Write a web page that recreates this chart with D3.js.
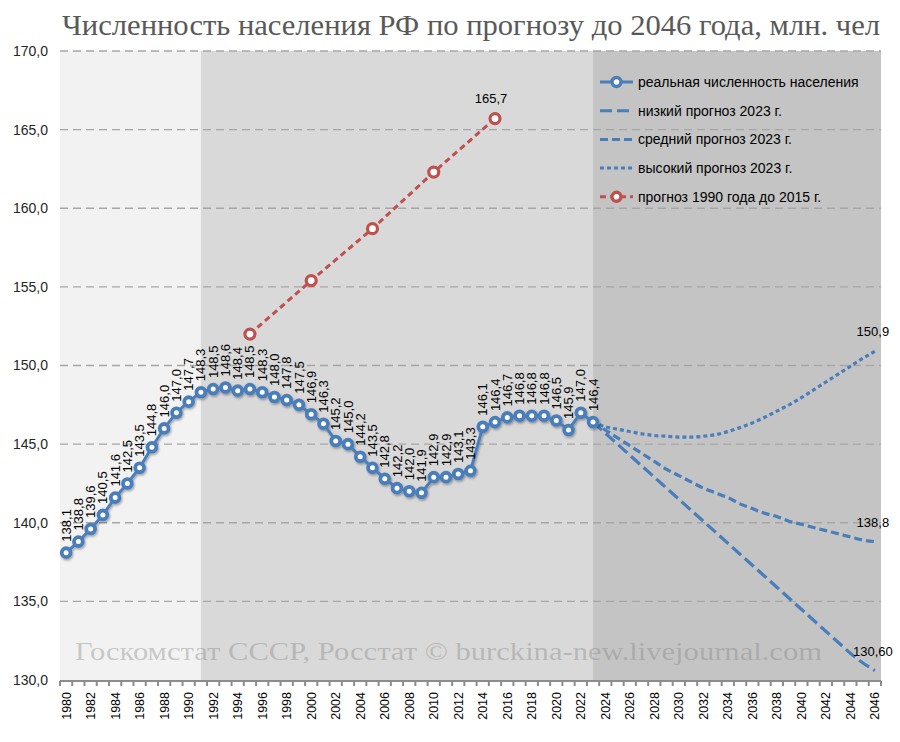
<!DOCTYPE html>
<html>
<head>
<meta charset="utf-8">
<script src="https://cdn.jsdelivr.net/npm/d3@7"></script>
<style>
  body { margin: 0; background: #ffffff; }
  svg { display: block; }
</style>
</head>
<body>
<script>
var anios = d3.range(1980, 2047);

var aniosReales = d3.range(1980, 2024);
var poblacionReal = [138.1, 138.8, 139.6, 140.5, 141.6, 142.5, 143.5, 144.8, 146.0, 147.0,
                     147.7, 148.3, 148.5, 148.6, 148.4, 148.5, 148.3, 148.0, 147.8, 147.5,
                     146.9, 146.3, 145.2, 145.0, 144.2, 143.5, 142.8, 142.2, 142.0, 141.9,
                     142.9, 142.9, 143.1, 143.3, 146.1, 146.4, 146.7, 146.8, 146.8, 146.8,
                     146.5, 145.9, 147.0, 146.4];

var aniosPrognoz = d3.range(2023, 2047);
var prognozNizkiy = [146.4, 145.7, 145.0, 144.3, 143.6, 142.9, 142.2, 141.5, 140.8, 140.1,
                     139.4, 138.7, 138.0, 137.3, 136.6, 135.9, 135.2, 134.5, 133.8, 133.1,
                     132.4, 131.7, 131.1, 130.6];
var prognozSredniy = [146.4, 145.9, 145.4, 144.9, 144.4, 143.9, 143.4, 143.0, 142.6, 142.2,
                      141.9, 141.6, 141.2, 140.9, 140.6, 140.4, 140.1, 139.9, 139.7, 139.5,
                      139.3, 139.1, 138.9, 138.8];
var prognozVysokiy = [146.4, 146.1, 145.95, 145.8, 145.65, 145.55, 145.5, 145.45, 145.45, 145.5,
                      145.6, 145.8, 146.05, 146.35, 146.7, 147.1, 147.5, 147.95, 148.45, 148.95,
                      149.45, 149.95, 150.45, 150.9];

var anios1990 = [1995, 2000, 2005, 2010, 2015];
var prognoz1990 = [152.0, 155.4, 158.7, 162.3, 165.7];

var ticksY = [130, 135, 140, 145, 150, 155, 160, 165, 170];

var etiquetasFinales = [
  {serie: prognozVysokiy, texto: "150,9"},
  {serie: prognozSredniy, texto: "138,8"},
  {serie: prognozNizkiy, texto: "130,60"}
];

var leyenda = [
  {texto: "реальная численность населения", color: "#4a7ebb", dash: null, marker: true},
  {texto: "низкий прогноз 2023 г.", color: "#4a7ebb", dash: "12,5", marker: false},
  {texto: "средний прогноз 2023 г.", color: "#4a7ebb", dash: "8,4", marker: false},
  {texto: "высокий прогноз 2023 г.", color: "#4a7ebb", dash: "4,3", marker: false},
  {texto: "прогноз 1990 года до 2015 г.", color: "#c0504d", dash: "6,4", marker: true}
];

var svgW = 900;
var svgH = 742;
var izq = 60, der = 881, arriba = 51, abajo = 680;
var azul = "#4a7ebb";
var rojo = "#c0504d";
var fuente = "'Liberation Sans', Arial, sans-serif";
var coma = function (v, n) { return v.toFixed(n).replace(".", ","); };

var svg = d3.select("body")
            .append("svg")
            .attr("width", svgW)
            .attr("height", svgH);

var defs = svg.append("defs");
defs.append("filter")
    .attr("id", "sombra")
    .attr("x", "-10%").attr("y", "-10%").attr("width", "120%").attr("height", "130%")
    .append("feDropShadow")
    .attr("dx", 1).attr("dy", 1.5).attr("stdDeviation", 1.2)
    .attr("flood-color", "#000").attr("flood-opacity", 0.35);

var xScale = d3.scalePoint()
               .domain(anios)
               .range([izq, der])
               .padding(0.5);

var yScale = d3.scaleLinear()
               .domain([130, 170])
               .range([abajo, arriba]);

var paso = xScale.step();

/* ---------- fondo ---------- */
svg.append("rect")
   .attr("x", izq).attr("y", arriba)
   .attr("width", xScale(1991) - izq).attr("height", abajo - arriba)
   .attr("fill", "#f2f2f2");
svg.append("rect")
   .attr("x", xScale(1991)).attr("y", arriba)
   .attr("width", xScale(2023) - xScale(1991)).attr("height", abajo - arriba)
   .attr("fill", "#d9d9d9");
svg.append("rect")
   .attr("x", xScale(2023)).attr("y", arriba)
   .attr("width", der - xScale(2023)).attr("height", abajo - arriba)
   .attr("fill", "#c4c4c4");

/* ---------- titulo ---------- */
svg.append("text")
   .attr("x", 62).attr("y", 35)
   .attr("textLength", 818)
   .attr("lengthAdjust", "spacingAndGlyphs")
   .attr("font-family", "'Liberation Serif', 'DejaVu Serif', serif")
   .attr("font-size", "30px")
   .attr("fill", "#595959")
   .text("Численность населения РФ по прогнозу до 2046 года, млн. чел");

/* ---------- ejes ---------- */
var yAxis = d3.axisLeft(yScale)
              .tickValues(ticksY)
              .tickSize(0)
              .tickPadding(12)
              .tickFormat(function (d) { return coma(d, 1); });

var gy = svg.append("g")
            .attr("transform", "translate(" + izq + ",0)")
            .call(yAxis);
gy.select(".domain").remove();
gy.selectAll("text")
  .attr("font-family", fuente)
  .attr("font-size", "14px")
  .attr("fill", "#262626");

svg.append("g")
   .selectAll("line")
   .data(ticksY.filter(function (d) { return d > 130; }))
   .enter()
   .append("line")
   .attr("x1", izq).attr("x2", der)
   .attr("y1", function (d) { return yScale(d); })
   .attr("y2", function (d) { return yScale(d); })
   .attr("stroke", "#a6a6a6")
   .attr("stroke-width", 1.3)
   .attr("stroke-dasharray", "8,5");

var gx = svg.append("g");
gx.append("line")
  .attr("x1", izq).attr("x2", der)
  .attr("y1", abajo + 1).attr("y2", abajo + 1)
  .attr("stroke", "#8c8c8c")
  .attr("stroke-width", 2);
gx.selectAll(".tick")
  .data(anios.concat([2047]))
  .enter()
  .append("line")
  .attr("x1", function (d) { return izq + (d - 1980) * paso; })
  .attr("x2", function (d) { return izq + (d - 1980) * paso; })
  .attr("y1", abajo + 1).attr("y2", abajo + 6)
  .attr("stroke", "#8c8c8c")
  .attr("stroke-width", 2);
gx.selectAll(".lbl")
  .data(anios.filter(function (d) { return d % 2 === 0; }))
  .enter()
  .append("text")
  .attr("transform", function (d) { return "translate(" + xScale(d) + "," + (abajo + 12) + ") rotate(-90)"; })
  .attr("dy", "0.35em")
  .attr("text-anchor", "end")
  .attr("font-family", fuente)
  .attr("font-size", "12.5px")
  .attr("fill", "#000")
  .text(function (d) { return d; });

/* ---------- marca de agua ---------- */
svg.append("text")
   .attr("x", 75).attr("y", 660)
   .attr("textLength", 747)
   .attr("lengthAdjust", "spacingAndGlyphs")
   .attr("font-family", "'Liberation Serif', 'DejaVu Serif', serif")
   .attr("font-size", "26px")
   .attr("fill", "rgba(128,128,128,0.38)")
   .text("Госкомстат СССР, Росстат © burckina-new.livejournal.com");

/* ---------- lineas ---------- */
var linea = function (xs) {
  return d3.line()
           .x(function (d, i) { return xScale(xs[i]); })
           .y(function (d) { return yScale(d); });
};

var pronosticos = [
  {serie: prognozNizkiy, dash: "12,5"},
  {serie: prognozSredniy, dash: "8,4"},
  {serie: prognozVysokiy, dash: "4,3"}
];

svg.append("g")
   .selectAll("path")
   .data(pronosticos)
   .enter()
   .append("path")
   .attr("d", function (d) { return linea(aniosPrognoz).curve(d3.curveMonotoneX)(d.serie); })
   .attr("fill", "none")
   .attr("stroke", azul)
   .attr("stroke-width", 3.2)
   .attr("stroke-dasharray", function (d) { return d.dash; });

var gReal = svg.append("g").attr("filter", "url(#sombra)");
gReal.append("path")
     .attr("d", linea(aniosReales)(poblacionReal))
     .attr("fill", "none")
     .attr("stroke", azul)
     .attr("stroke-width", 3);
gReal.selectAll("circle")
     .data(poblacionReal)
     .enter()
     .append("circle")
     .attr("cx", function (d, i) { return xScale(aniosReales[i]); })
     .attr("cy", function (d) { return yScale(d); })
     .attr("r", 4.4)
     .attr("fill", "#fff")
     .attr("stroke", azul)
     .attr("stroke-width", 3.8);

var gRojo = svg.append("g");
gRojo.append("path")
     .attr("d", linea(anios1990)(prognoz1990))
     .attr("fill", "none")
     .attr("stroke", rojo)
     .attr("stroke-width", 3)
     .attr("stroke-dasharray", "6,4");
gRojo.selectAll("circle")
     .data(prognoz1990)
     .enter()
     .append("circle")
     .attr("cx", function (d, i) { return xScale(anios1990[i]); })
     .attr("cy", function (d) { return yScale(d); })
     .attr("r", 5)
     .attr("fill", "#fff")
     .attr("stroke", rojo)
     .attr("stroke-width", 3.2);

/* ---------- etiquetas ---------- */
svg.append("g")
   .selectAll("text")
   .data(poblacionReal)
   .enter()
   .append("text")
   .attr("transform", function (d, i) {
     return "translate(" + xScale(aniosReales[i]) + "," + (yScale(d) - 11) + ") rotate(-90)";
   })
   .attr("dy", "0.35em")
   .attr("font-family", fuente)
   .attr("font-size", "13px")
   .attr("fill", "#000")
   .text(function (d) { return coma(d, 1); });

svg.append("text")
   .attr("x", xScale(2015) - 4)
   .attr("y", yScale(prognoz1990[4]) - 16)
   .attr("text-anchor", "middle")
   .attr("font-family", fuente)
   .attr("font-size", "13px")
   .attr("fill", "#000")
   .text(coma(prognoz1990[4], 1));

svg.append("g")
   .selectAll("text")
   .data(etiquetasFinales)
   .enter()
   .append("text")
   .attr("x", xScale(2046) - 2)
   .attr("y", function (d) { return yScale(d.serie[d.serie.length - 1]) - 15; })
   .attr("text-anchor", "middle")
   .attr("font-family", fuente)
   .attr("font-size", "13px")
   .attr("fill", "#000")
   .text(function (d) { return d.texto; });

/* ---------- leyenda ---------- */
var gLey = svg.append("g")
              .selectAll("g")
              .data(leyenda)
              .enter()
              .append("g")
              .attr("transform", function (d, i) { return "translate(600," + (82 + i * 28.7) + ")"; });
gLey.append("line")
    .attr("x1", 0).attr("x2", 33)
    .attr("y1", 0).attr("y2", 0)
    .attr("stroke", function (d) { return d.color; })
    .attr("stroke-width", 3)
    .attr("stroke-dasharray", function (d) { return d.dash; });
gLey.filter(function (d) { return d.marker; })
    .append("circle")
    .attr("cx", 16.5).attr("cy", 0)
    .attr("r", 4.5)
    .attr("fill", "#fff")
    .attr("stroke", function (d) { return d.color; })
    .attr("stroke-width", 3.4);
gLey.append("text")
    .attr("x", 38).attr("y", 0)
    .attr("dy", "0.35em")
    .attr("font-family", fuente)
    .attr("font-size", "14px")
    .attr("fill", "#000")
    .text(function (d) { return d.texto; });
</script>
</body>
</html>
